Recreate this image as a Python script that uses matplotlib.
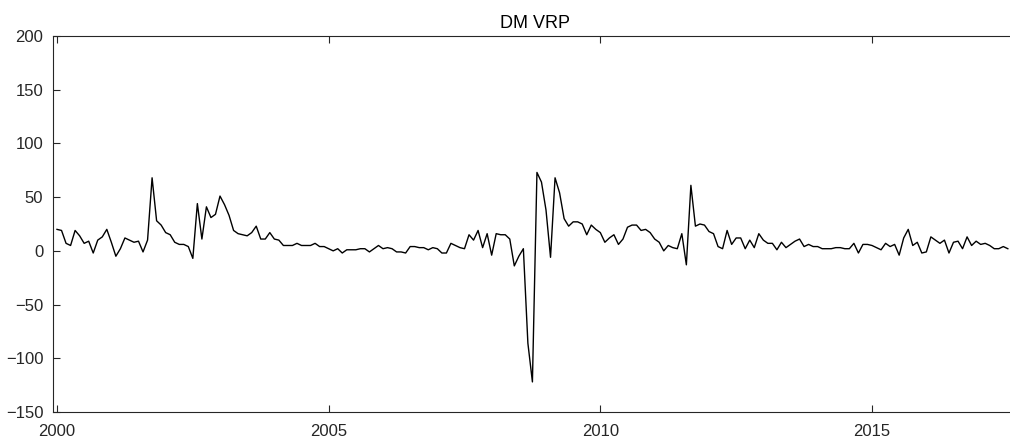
import numpy as np
import matplotlib.pyplot as plt

# monthly DM variance risk premium, Jan 2000 onwards
vrp = [20, 19, 7, 5, 19, 14, 7, 9, -2, 10, 13, 20,
       8, -5, 2, 12, 10, 8, 9, -1, 10, 68, 28, 24,
       17, 15, 8, 6, 6, 4, -7, 44, 11, 41, 31, 34,
       51, 43, 33, 19, 16, 15, 14, 17, 23, 11, 11, 17,
       11, 10, 5, 5, 5, 7, 5, 5, 5, 7, 4, 4,
       2, 0, 2, -2, 1, 1, 1, 2, 2, -1, 2, 5,
       2, 3, 2, -1, -1, -2, 4, 4, 3, 3, 1, 3,
       2, -2, -2, 7, 5, 3, 2, 15, 10, 19, 3, 16,
       -4, 16, 15, 15, 11, -14, -5, 2, -86, -122, 73, 64,
       38, -6, 68, 54, 30, 23, 27, 27, 25, 15, 24, 20,
       17, 8, 12, 15, 6, 11, 22, 24, 24, 19, 20, 17,
       11, 8, 0, 5, 3, 2, 16, -13, 61, 23, 25, 24,
       18, 16, 4, 2, 19, 6, 12, 12, 2, 10, 3, 16,
       10, 7, 7, 1, 8, 3, 6, 9, 11, 4, 6, 4,
       4, 2, 2, 2, 3, 3, 2, 2, 7, -2, 6, 6,
       5, 3, 1, 7, 4, 6, -4, 12, 20, 5, 8, -2,
       -1, 13, 10, 7, 10, -2, 8, 9, 2, 13, 5, 9,
       6, 7, 5, 2, 2, 4, 2]
start_year = 2000
year_ticks = [2000, 2005, 2010, 2015]
y_ticks = [-150, -100, -50, 0, 50, 100, 150, 200]

t = start_year + np.arange(len(vrp)) / 12.0

plt.rcParams['font.family'] = ['Liberation Sans', 'DejaVu Sans']
axcol = '#262626'

W, H = 1010, 438
fig = plt.figure(figsize=(W / 100, H / 100), dpi=100)
# the box runs past the right edge of the figure
left, right, bottom, top = 53, 1030, 26, 402
ax = fig.add_axes([left / W, bottom / H, (right - left) / W, (top - bottom) / H])
ax.plot(t, vrp, color='black', lw=1.0)

px_per_year = (872 - 57) / 15.0
ax.set_xlim(2000 - (57 - left) / px_per_year, 2000 + (right - 57) / px_per_year)
ax.set_ylim(-150, 200)
ax.set_xticks(year_ticks)
ax.set_yticks(y_ticks)
ax.tick_params(direction='in', length=5, width=0.8, colors=axcol,
               labelsize=12, top=True, right=False)
ax.tick_params(axis='x', pad=9)
ax.tick_params(axis='y', pad=7)
for s in ax.spines.values():
    s.set_color(axcol)
    s.set_linewidth(0.8)
ax.spines['right'].set_visible(False)
ax.set_title('DM VRP', fontsize=13, color='black', pad=5.5,
             x=(535 - left) / (right - left))

fig.savefig('out.png', dpi=100)
